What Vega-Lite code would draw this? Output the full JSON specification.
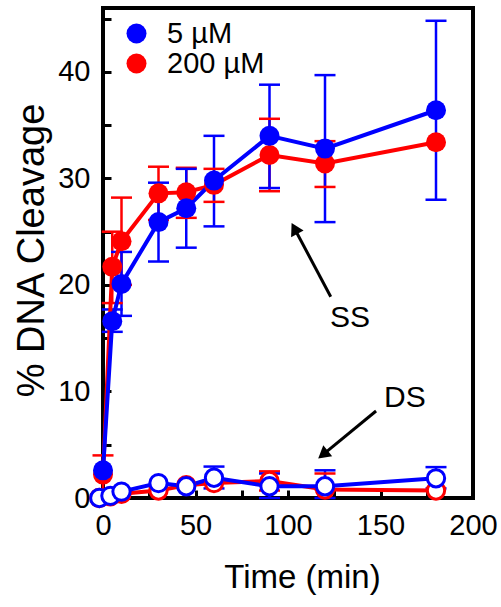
{
  "$schema": "https://vega.github.io/schema/vega-lite/v6.json",
  "width": 370,
  "height": 490,
  "autosize": {"type": "none"},
  "padding": {"left": 103, "top": 8, "right": 28, "bottom": 109},
  "background": "white",
  "config": {
    "font": "Liberation Sans",
    "view": {"stroke": "black", "strokeWidth": 4},
    "axis": {"grid": false, "domain": false, "tickColor": "black", "tickWidth": 3, "tickSize": -8, "labelColor": "black", "titleColor": "black", "titleFontWeight": "normal", "labelFlush": false, "labelOverlap": false, "labelBound": false}
  },
  "datasets": {
    "pts": [
      {"t": 0, "conc": "200 µM", "strand": "SS", "v": 2.2, "lo": 0.4, "hi": 4.0},
      {"t": 5, "conc": "200 µM", "strand": "SS", "v": 21.7, "lo": 18.3, "hi": 25.0},
      {"t": 10, "conc": "200 µM", "strand": "SS", "v": 24.1, "lo": 20.0, "hi": 28.2},
      {"t": 30, "conc": "200 µM", "strand": "SS", "v": 28.6, "lo": 26.1, "hi": 31.1},
      {"t": 45, "conc": "200 µM", "strand": "SS", "v": 28.7, "lo": 26.3, "hi": 31.0},
      {"t": 60, "conc": "200 µM", "strand": "SS", "v": 29.4, "lo": 27.8, "hi": 30.9},
      {"t": 90, "conc": "200 µM", "strand": "SS", "v": 32.2, "lo": 28.8, "hi": 35.6},
      {"t": 120, "conc": "200 µM", "strand": "SS", "v": 31.4, "lo": 29.2, "hi": 33.5},
      {"t": 180, "conc": "200 µM", "strand": "SS", "v": 33.4, "lo": null, "hi": null},
      {"t": -2, "conc": "200 µM", "strand": "DS", "v": 0.0, "lo": null, "hi": null},
      {"t": 4, "conc": "200 µM", "strand": "DS", "v": 0.15, "lo": null, "hi": null},
      {"t": 10, "conc": "200 µM", "strand": "DS", "v": 0.4, "lo": null, "hi": null},
      {"t": 30, "conc": "200 µM", "strand": "DS", "v": 0.7, "lo": null, "hi": null},
      {"t": 45, "conc": "200 µM", "strand": "DS", "v": 1.2, "lo": null, "hi": null},
      {"t": 60, "conc": "200 µM", "strand": "DS", "v": 1.4, "lo": null, "hi": null},
      {"t": 90, "conc": "200 µM", "strand": "DS", "v": 1.6, "lo": 0.7, "hi": 2.5},
      {"t": 120, "conc": "200 µM", "strand": "DS", "v": 0.8, "lo": 0.8, "hi": 2.3},
      {"t": 180, "conc": "200 µM", "strand": "DS", "v": 0.7, "lo": null, "hi": null},
      {"t": 0, "conc": "5 µM", "strand": "SS", "v": 2.6, "lo": null, "hi": null},
      {"t": 5, "conc": "5 µM", "strand": "SS", "v": 16.6, "lo": 15.6, "hi": 17.7},
      {"t": 10, "conc": "5 µM", "strand": "SS", "v": 20.1, "lo": 17.1, "hi": 23.1},
      {"t": 30, "conc": "5 µM", "strand": "SS", "v": 25.9, "lo": 22.2, "hi": 29.6},
      {"t": 45, "conc": "5 µM", "strand": "SS", "v": 27.2, "lo": 23.5, "hi": 30.9},
      {"t": 60, "conc": "5 µM", "strand": "SS", "v": 29.8, "lo": 25.5, "hi": 34.0},
      {"t": 90, "conc": "5 µM", "strand": "SS", "v": 34.0, "lo": 29.1, "hi": 38.8},
      {"t": 120, "conc": "5 µM", "strand": "SS", "v": 32.8, "lo": 25.9, "hi": 39.7},
      {"t": 180, "conc": "5 µM", "strand": "SS", "v": 36.4, "lo": 28.0, "hi": 44.8},
      {"t": -2, "conc": "5 µM", "strand": "DS", "v": 0.0, "lo": null, "hi": null},
      {"t": 4, "conc": "5 µM", "strand": "DS", "v": 0.2, "lo": null, "hi": null},
      {"t": 10, "conc": "5 µM", "strand": "DS", "v": 0.6, "lo": null, "hi": null},
      {"t": 30, "conc": "5 µM", "strand": "DS", "v": 1.4, "lo": null, "hi": null},
      {"t": 45, "conc": "5 µM", "strand": "DS", "v": 1.1, "lo": null, "hi": null},
      {"t": 60, "conc": "5 µM", "strand": "DS", "v": 1.9, "lo": 0.9, "hi": 2.95},
      {"t": 90, "conc": "5 µM", "strand": "DS", "v": 1.1, "lo": 0.0, "hi": 2.3},
      {"t": 120, "conc": "5 µM", "strand": "DS", "v": 1.1, "lo": 0.0, "hi": 2.6},
      {"t": 180, "conc": "5 µM", "strand": "DS", "v": 1.85, "lo": 0.9, "hi": 2.9}
    ]
  },
  "layer": [
    {
      "data": {"name": "pts"},
      "transform": [{"filter": "isValid(datum.hi)"}],
      "mark": {"type": "rule", "strokeWidth": 2.5},
      "encoding": {
        "x": {"field": "t", "type": "quantitative", "title": "Time (min)",
          "scale": {"domain": [0, 200], "nice": false, "zero": false},
          "axis": {"values": [0, 25, 50, 75, 100, 125, 150, 175, 200], "labelExpr": "datum.value % 50 === 0 ? datum.label : ''", "labelFontSize": 29, "labelPadding": 21, "titleFontSize": 33, "titleX": 199, "titleY": 89, "titleBaseline": "alphabetic", "titleAlign": "center"}},
        "y": {"field": "lo", "type": "quantitative", "title": "% DNA Cleavage",
          "scale": {"domain": [0, 46], "nice": false, "zero": false},
          "axis": {"values": [0, 5, 10, 15, 20, 25, 30, 35, 40, 45], "labelExpr": "datum.value % 10 === 0 ? datum.label : ''", "labelFontSize": 29, "labelPadding": 21, "titleFontSize": 38, "titleAngle": 270, "titleX": -60, "titleY": 242, "titleBaseline": "alphabetic", "titleAlign": "center"}},
        "y2": {"field": "hi"},
        "color": {"field": "conc", "type": "nominal", "scale": {"domain": ["5 µM", "200 µM"], "range": ["#0000ff", "#ff0000"]},
          "legend": {"orient": "none", "legendX": 19, "legendY": 11, "title": null, "labelFontSize": 29, "labelColor": "black", "symbolSize": 400, "symbolType": "circle", "symbolStrokeWidth": 0, "labelOffset": 16, "rowPadding": 0, "padding": 0}}
      }
    },
    {
      "data": {"name": "pts"},
      "transform": [{"filter": "isValid(datum.hi)"}],
      "mark": {"type": "tick", "orient": "horizontal", "size": 21, "thickness": 2.5, "opacity": 1},
      "encoding": {
        "x": {"field": "t", "type": "quantitative", "title": "Time (min)"},
        "y": {"field": "hi", "type": "quantitative", "title": "% DNA Cleavage"},
        "color": {"field": "conc", "type": "nominal"}
      }
    },
    {
      "data": {"name": "pts"},
      "transform": [{"filter": "isValid(datum.lo)"}],
      "mark": {"type": "tick", "orient": "horizontal", "size": 21, "thickness": 2.5, "opacity": 1},
      "encoding": {
        "x": {"field": "t", "type": "quantitative", "title": "Time (min)"},
        "y": {"field": "lo", "type": "quantitative", "title": "% DNA Cleavage"},
        "color": {"field": "conc", "type": "nominal"}
      }
    },
    {
      "data": {"name": "pts"},
      "mark": {"type": "line", "strokeWidth": 4},
      "encoding": {
        "x": {"field": "t", "type": "quantitative", "title": "Time (min)"},
        "y": {"field": "v", "type": "quantitative", "title": "% DNA Cleavage"},
        "detail": {"field": "strand"},
        "color": {"field": "conc", "type": "nominal"}
      }
    },
    {
      "data": {"name": "pts"},
      "transform": [{"filter": "datum.strand === 'SS'"}],
      "mark": {"type": "point", "shape": "circle", "filled": true, "size": 400, "opacity": 1, "strokeWidth": 0},
      "encoding": {
        "x": {"field": "t", "type": "quantitative", "title": "Time (min)"},
        "y": {"field": "v", "type": "quantitative", "title": "% DNA Cleavage"},
        "color": {"field": "conc", "type": "nominal"}
      }
    },
    {
      "data": {"name": "pts"},
      "transform": [{"filter": "datum.strand === 'DS'"}],
      "mark": {"type": "point", "shape": "circle", "filled": true, "fill": "white", "size": 300, "opacity": 1, "strokeWidth": 3},
      "encoding": {
        "x": {"field": "t", "type": "quantitative", "title": "Time (min)"},
        "y": {"field": "v", "type": "quantitative", "title": "% DNA Cleavage"},
        "stroke": {"field": "conc", "type": "nominal", "scale": {"domain": ["5 µM", "200 µM"], "range": ["#0000ff", "#ff0000"]}, "legend": null}
      }
    },
    {
      "data": {"values": [{"x": 123.1, "y": 18.9, "x2": 103.5, "y2": 25.3}, {"x": 147.6, "y": 8.17, "x2": 118.9, "y2": 4.08}]},
      "mark": {"type": "rule", "strokeWidth": 3, "color": "black"},
      "encoding": {
        "x": {"field": "x", "type": "quantitative", "title": "Time (min)"},
        "y": {"field": "y", "type": "quantitative", "title": "% DNA Cleavage"},
        "x2": {"field": "x2"},
        "y2": {"field": "y2"}
      }
    },
    {
      "data": {"values": [{"x": 103.5, "y": 25.3}]},
      "mark": {"type": "point", "shape": "triangle-up", "filled": true, "color": "black", "size": 200, "opacity": 1, "angle": 332},
      "encoding": {
        "x": {"field": "x", "type": "quantitative", "title": "Time (min)"},
        "y": {"field": "y", "type": "quantitative", "title": "% DNA Cleavage"}
      }
    },
    {
      "data": {"values": [{"x": 118.9, "y": 4.08}]},
      "mark": {"type": "point", "shape": "triangle-up", "filled": true, "color": "black", "size": 200, "opacity": 1, "angle": 231},
      "encoding": {
        "x": {"field": "x", "type": "quantitative", "title": "Time (min)"},
        "y": {"field": "y", "type": "quantitative", "title": "% DNA Cleavage"}
      }
    },
    {
      "data": {"values": [{"x": 133.5, "y": 16.9, "label": "SS"}, {"x": 163.2, "y": 9.4, "label": "DS"}]},
      "mark": {"type": "text", "fontSize": 30, "color": "black", "align": "center", "baseline": "middle"},
      "encoding": {
        "x": {"field": "x", "type": "quantitative", "title": "Time (min)"},
        "y": {"field": "y", "type": "quantitative", "title": "% DNA Cleavage"},
        "text": {"field": "label"}
      }
    }
  ]
}
